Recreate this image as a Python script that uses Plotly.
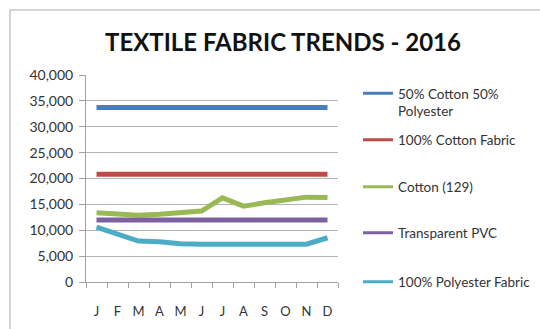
import plotly.graph_objects as go

months = ["J", "F", "M", "A", "M ", "J ", "J  ", "A ", "S", "O", "N", "D"]
month_labels = ["J", "F", "M", "A", "M", "J", "J", "A", "S", "O", "N", "D"]

cotton_poly_50 = [33700] * 12
cotton_100 = [20800] * 12
cotton_129 = [13400, 13100, 12900, 13100, 13300, 13700, 16250, 14650, 15300, 15900, 16400, 16350]
transparent_pvc = [12000] * 12
polyester_100 = [10600, 9200, 7900, 7800, 7400, 7300, 7300, 7300, 7300, 7300, 7300, 8550]

series = [
    ("50% Cotton 50%<br>Polyester", cotton_poly_50, "#4a7ebb"),
    ("100% Cotton Fabric", cotton_100, "#be4b48"),
    ("Cotton (129)", cotton_129, "#98b954"),
    ("Transparent PVC", transparent_pvc, "#7d60a0"),
    ("100% Polyester Fabric", polyester_100, "#4bacc6"),
]

W, H = 540, 329
L, R, T, B = 86, 338, 75, 282

def px_x(p):
    return (p - L) / (R - L)

def px_y(p):
    return (B - p) / (B - T)

legend_y = [102.5, 140, 187, 233, 282]
FONT = "Lato, sans-serif"

fig = go.Figure()
layout_legends = {}
for i, (name, vals, col) in enumerate(series):
    key = "legend" if i == 0 else f"legend{i+1}"
    fig.add_trace(go.Scatter(
        x=months, y=vals, name=name, mode="lines",
        line=dict(color=col, width=5),
        legendgroup=f"g{i}", showlegend=False,
    ))
    # legend entry with thinner sample line (no data drawn)
    fig.add_trace(go.Scatter(
        x=[None], y=[None], name=name, mode="lines",
        line=dict(color=col, width=3),
        legendgroup=f"g{i}", legend=key, showlegend=True,
    ))
    layout_legends[key] = dict(
        x=px_x(358), xanchor="left", y=px_y(legend_y[i]), yanchor="middle",
        bgcolor="rgba(0,0,0,0)", borderwidth=0, valign="top",
        font=dict(family=FONT, size=13.5, color="#333333"),
        itemwidth=30, tracegroupgap=0,
    )

fig.update_layout(
    width=W, height=H,
    margin=dict(l=L, r=W - R, t=T, b=H - B, autoexpand=False),
    paper_bgcolor="white", plot_bgcolor="white",
    title=dict(text="<b>TEXTILE FABRIC TRENDS - 2016</b>", x=283 / W, xanchor="center",
               xref="container", y=1 - 43 / H, yref="container", yanchor="middle",
               font=dict(family=FONT, size=24, color="#111111")),
    xaxis=dict(
        type="category", tickmode="array", tickvals=months, ticktext=month_labels,
        range=[-0.5, 11.5], tickangle=0, automargin=False,
        tickson="boundaries", ticks="outside", ticklen=5, tickcolor="#a0a0a0",
        showline=True, linecolor="#a0a0a0", linewidth=1, showgrid=False,
        tickfont=dict(family=FONT, size=13, color="#333333"),
        ticklabelstandoff=17, fixedrange=True,
    ),
    yaxis=dict(
        range=[0, 40000], tickmode="array", tickvals=list(range(0, 40001, 5000)),
        tickformat=",d", ticks="outside", ticklen=6, tickcolor="#a0a0a0",
        showline=True, linecolor="#a0a0a0", linewidth=1, automargin=False,
        showgrid=True, gridcolor="#b4b4b4", gridwidth=1, zeroline=False,
        tickfont=dict(family=FONT, size=14, color="#333333"),
        ticklabelstandoff=3, fixedrange=True,
    ),
    shapes=[dict(type="rect", xref="paper", yref="paper",
                 x0=px_x(10), x1=px_x(600), y0=px_y(400), y1=px_y(10),
                 line=dict(color="#c8c8c8", width=1.5), fillcolor="rgba(0,0,0,0)", layer="below")],
    **layout_legends,
)

fig.write_html("out.html")
